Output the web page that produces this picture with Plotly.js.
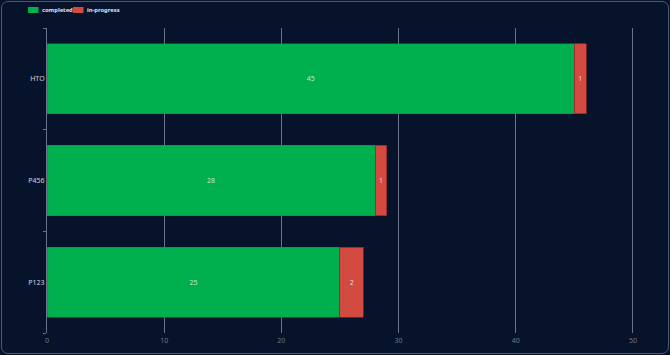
<!DOCTYPE html>
<html>
<head>
<meta charset="utf-8">
<script src="https://cdn.plot.ly/plotly-3.0.1.min.js"></script>
<style>
  html, body { margin:0; padding:0; background:#07132a; }
  #frame { position:absolute; left:1px; top:1px; width:666px; height:351px; border:1px solid #4a5a70; border-radius:7px; box-sizing:content-box; }
  #chart { position:absolute; left:0; top:0; width:670px; height:355px; }
</style>
</head>
<body>
<div id="chart"></div>
<div id="frame"></div>
<script>
const categories = ["P123", "P456", "HTO"];
const completed = [25, 28, 45];
const inProgress = [2, 1, 1];
const seriesNames = ["completed", "in-progress"];
const seriesColors = ["#00b04f", "#d24a40"];
const xTickValues = [0, 10, 20, 30, 40, 50];

const W = 670, H = 355;
const M = {l: 47, r: 9, t: 28, b: 22};
const plotW = W - M.l - M.r, plotH = H - M.t - M.b;
const px2x = p => (p - M.l) / plotW;
const py2y = p => (H - M.b - p) / plotH;

const textFont = {family: "Noto Sans, sans-serif", size: 7, color: "rgba(255,255,255,0.75)"};

const traces = [
  {
    type: "bar", orientation: "h", name: seriesNames[0],
    y: categories, x: completed, text: completed.map(String),
    textposition: "inside", insidetextanchor: "middle", textfont: textFont,
    marker: {color: seriesColors[0], line: {color: "#0a8a40", width: 0.5}},
    hoverinfo: "x+y"
  },
  {
    type: "bar", orientation: "h", name: seriesNames[1],
    y: categories, x: inProgress, text: inProgress.map(String),
    textposition: "inside", insidetextanchor: "middle", textfont: textFont,
    marker: {color: seriesColors[1], line: {color: "#8a2a25", width: 0.8}},
    hoverinfo: "x+y"
  }
];

// manual legend (small rectangles + labels)
const legendItems = [{x0: 28, label: 39.5}, {x0: 73, label: 84.5}];
const shapes = [], annotations = [];
legendItems.forEach((it, i) => {
  shapes.push({type: "rect", xref: "paper", yref: "paper",
    x0: px2x(it.x0), x1: px2x(it.x0 + 10.5), y0: py2y(13), y1: py2y(7),
    fillcolor: seriesColors[i], line: {width: 0}, layer: "above"});
  annotations.push({xref: "paper", yref: "paper", x: px2x(it.label), y: py2y(10),
    xanchor: "left", yanchor: "middle", showarrow: false, text: seriesNames[i],
    font: {family: "Noto Sans, sans-serif", size: 5.8, color: "#e0e4ea", weight: "bold"}});
});

const layout = {
  width: W, height: H,
  paper_bgcolor: "#07132a", plot_bgcolor: "#07132a",
  margin: M,
  barmode: "stack", bargap: 0.31,
  font: {family: "Noto Sans, sans-serif", size: 7, color: "#d0d5de"},
  showlegend: false,
  shapes: shapes, annotations: annotations,
  xaxis: {
    range: [0, 52.4], tickvals: xTickValues, ticktext: xTickValues.map(String),
    showgrid: true, gridcolor: "#6a7285", gridwidth: 1,
    zeroline: false, showline: false, ticks: "",
    tickfont: {size: 7, color: "#6f7889"}, ticklabelstandoff: 2, fixedrange: true
  },
  yaxis: {
    type: "category", categoryorder: "array", categoryarray: categories,
    range: [-0.5, 2.5], showgrid: false, zeroline: false,
    showline: true, linecolor: "#6a7285", linewidth: 1,
    ticks: "outside", tickson: "boundaries", ticklen: 3, tickcolor: "#6a7285",
    tickfont: {size: 7, color: "#d0d5de"}, fixedrange: true
  }
};

Plotly.newPlot("chart", traces, layout, {displayModeBar: false, staticPlot: true});
</script>
</body>
</html>
